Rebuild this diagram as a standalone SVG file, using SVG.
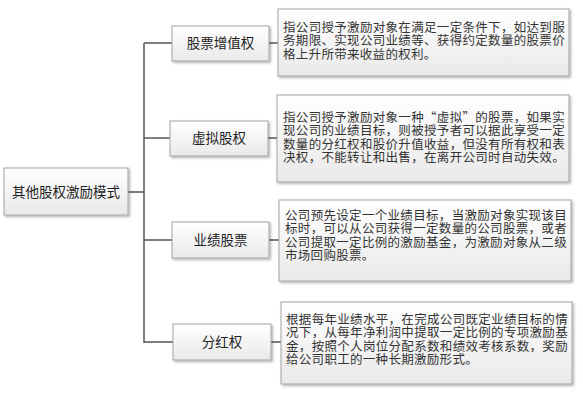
<svg xmlns="http://www.w3.org/2000/svg" width="583" height="400" viewBox="0 0 583 400">
<defs>
<linearGradient id="g" x1="0" y1="0" x2="0" y2="1">
<stop offset="0" stop-color="#ffffff"/>
<stop offset="1" stop-color="#e9e9e9"/>
</linearGradient>
<filter id="sh" x="-5%" y="-10%" width="115%" height="130%">
<feDropShadow dx="1.5" dy="1.5" stdDeviation="1" flood-color="#000" flood-opacity="0.3"/>
</filter>
<style>
.box{fill:url(#g);stroke:#a3a3a3;stroke-width:1;filter:url(#sh)}
.ln{fill:none;stroke:#555;stroke-width:1.5}
.t{font-family:"Noto Sans CJK SC","Liberation Serif",serif;fill:#222}
.m{font-size:13.5px;text-anchor:middle}
.d{font-size:12.5px;letter-spacing:0.3px;fill:#333}
</style>
</defs>
<rect width="583" height="400" fill="#fff"/>
<g id="connectors">
<path class="ln" d="M128 192H144M144 43V343M144 43H172M144 138H170M144 240H172M144 342H173M269 43H278M268 138H277M269 240H279M271 342H281"/>
</g>
<g id="root">
<rect class="box" x="4" y="168" width="124" height="47"/>
<text class="t m" x="66" y="196.5">其他股权激励模式</text>
</g>
<g id="n1">
<rect class="box" x="172" y="26" width="97" height="35"/>
<text class="t m" x="220.5" y="48">股票增值权</text>
</g>
<g id="n2">
<rect class="box" x="170" y="121" width="98" height="35"/>
<text class="t m" x="219" y="143">虚拟股权</text>
</g>
<g id="n3">
<rect class="box" x="172" y="222" width="97" height="36"/>
<text class="t m" x="220.5" y="244.5">业绩股票</text>
</g>
<g id="n4">
<rect class="box" x="173" y="324" width="98" height="36"/>
<text class="t m" x="222" y="346.5">分红权</text>
</g>
<g id="d1">
<rect class="box" x="278" y="9" width="291" height="67"/>
<text class="t d" x="283" y="31.5" textLength="282" lengthAdjust="spacing">指公司授予激励对象在满足一定条件下，如达到服</text>
<text class="t d" x="283" y="45" textLength="282" lengthAdjust="spacing">务期限、实现公司业绩等、获得约定数量的股票价</text>
<text class="t d" x="283" y="58.5">格上升所带来收益的权利。</text>
</g>
<g id="d2">
<rect class="box" x="277" y="95" width="292" height="87"/>
<text class="t d" x="283" y="121.5" textLength="282" lengthAdjust="spacing">指公司授予激励对象一种“虚拟”的股票，如果实</text>
<text class="t d" x="283" y="135" textLength="282" lengthAdjust="spacing">现公司的业绩目标，则被授予者可以据此享受一定</text>
<text class="t d" x="283" y="148.5" textLength="282" lengthAdjust="spacing">数量的分红权和股价升值收益，但没有所有权和表</text>
<text class="t d" x="283" y="162" textLength="282" lengthAdjust="spacing">决权，不能转让和出售，在离开公司时自动失效。</text>
</g>
<g id="d3">
<rect class="box" x="279" y="200" width="292" height="81"/>
<text class="t d" x="285" y="219.5" textLength="282" lengthAdjust="spacing">公司预先设定一个业绩目标，当激励对象实现该目</text>
<text class="t d" x="285" y="233" textLength="282" lengthAdjust="spacing">标时，可以从公司获得一定数量的公司股票，或者</text>
<text class="t d" x="285" y="246.5" textLength="282" lengthAdjust="spacing">公司提取一定比例的激励基金，为激励对象从二级</text>
<text class="t d" x="285" y="260">市场回购股票。</text>
</g>
<g id="d4">
<rect class="box" x="281" y="302" width="291" height="82"/>
<text class="t d" x="286" y="323.5" textLength="282" lengthAdjust="spacing">根据每年业绩水平，在完成公司既定业绩目标的情</text>
<text class="t d" x="286" y="337" textLength="282" lengthAdjust="spacing">况下，从每年净利润中提取一定比例的专项激励基</text>
<text class="t d" x="286" y="350.5" textLength="282" lengthAdjust="spacing">金，按照个人岗位分配系数和绩效考核系数，奖励</text>
<text class="t d" x="286" y="364">给公司职工的一种长期激励形式。</text>
</g>
</svg>
